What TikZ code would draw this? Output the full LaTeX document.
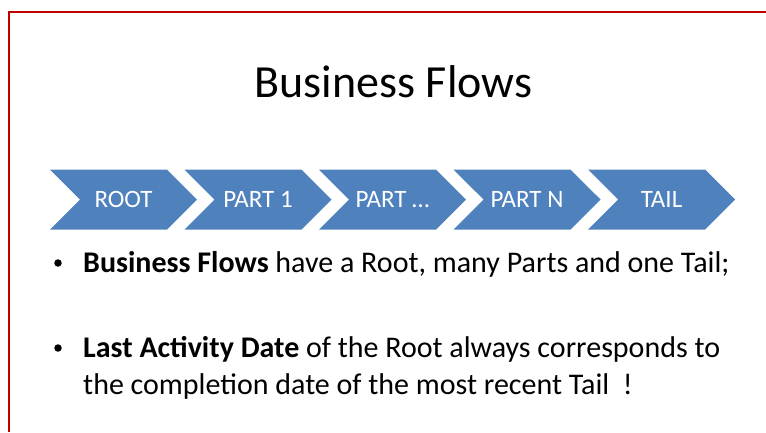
\documentclass[tikz,border=0pt]{standalone}
\usepackage{fontspec}
\setmainfont{Carlito}
\usetikzlibrary{shapes.symbols}
\definecolor{bfBlue}{RGB}{79, 129, 189}
\definecolor{bfRed}{RGB}{192, 0, 0}
\tikzset{
    stage/.style={
        signal,
        signal from=west,
        signal to=east,
        signal pointer angle=90,
        fill=bfBlue,
        text=white,
        inner sep=0pt,
        minimum width=147pt,
        minimum height=60pt,
        font=\fontsize{25}{30}\selectfont
    },
    headline/.style={
        anchor=base,
        inner sep=0pt,
        font=\fontsize{46}{52}\selectfont
    },
    body/.style={
        anchor=base west,
        inner sep=0pt,
        font=\fontsize{30}{37}\selectfont
    },
    point/.style={
        anchor=center,
        circle,
        fill=black,
        inner sep=0pt,
        minimum size=7.5pt
    }
}

\begin{document}
\begin{tikzpicture}[x=1pt, y=-1pt]
  \useasboundingbox (0,0) rectangle (766,432);

  % Slide frame (runs off the right and bottom)
  \coordinate (frameTR) at (766,12);
  \coordinate (frameBL) at (9,432);
  \draw[bfRed, line width=2pt] (frameTR) -- (9,12) -- (frameBL);

  % Title
  \node[headline] (title) at (393.5,97) {Business Flows};

  % Flow stages
  \foreach \name/\txt [count=\i from 0] in {root/ROOT, part1/PART 1, partx/PART \dots, partn/PART N, tail/TAIL}
    \node[stage] (\name) at (123.5+134.5*\i, 199.5) {\txt};

  % Bullets
  \node[point] (dot1) at (58,263) {};
  \node[body] (line1) at (83,272) {\textbf{Business Flows} have a Root, many Parts and one Tail;};

  \node[point] (dot2) at (58,348) {};
  \node[body] (line2) at (83,357) {\textbf{Last Activity Date} of the Root always corresponds to};
  \node[body] (line3) at (83,394) {the completion date of the most recent Tail~~!};

\end{tikzpicture}
\end{document}
